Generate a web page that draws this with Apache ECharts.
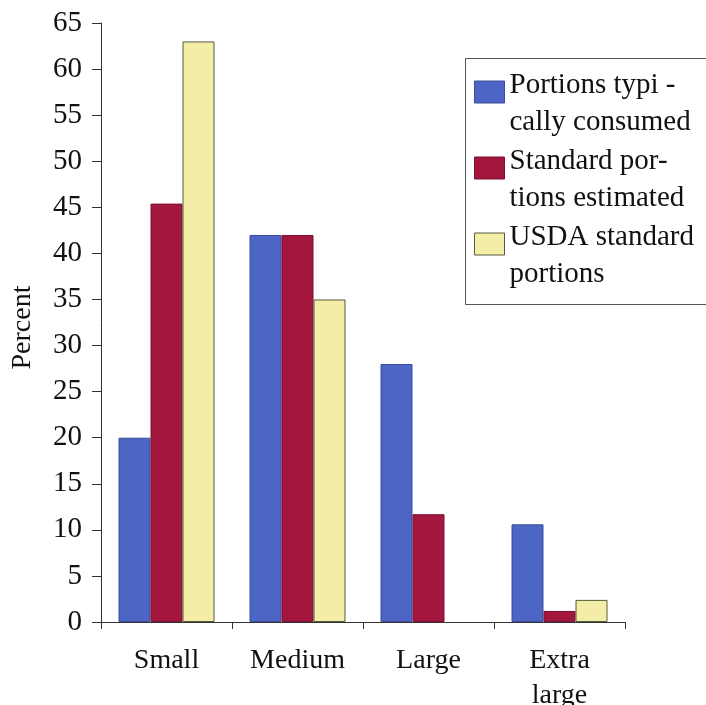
<!DOCTYPE html>
<html>
<head>
<meta charset="utf-8">
<style>
  html, body { margin: 0; padding: 0; background: #ffffff; }
  #chart { width: 706px; height: 705px; }
</style>
<script src="https://cdn.jsdelivr.net/npm/echarts@6/dist/echarts.min.js"></script>
</head>
<body>
<div id="chart"></div>
<script>
// Portion-size categories on the x axis
const categories = ['Small', 'Medium', 'Large', 'Extra\nlarge'];

// Percent of responses in each portion-size category
const typicallyConsumed = [20, 42, 28, 10.6];
const standardEstimated = [45.4, 42, 11.7, 1.2];
const usdaStandard = [63, 35, 0, 2.4];

// Series names, broken over two lines the way the legend prints them
const seriesNames = [
  'Portions typi -\ncally consumed',
  'Standard por-\ntions estimated',
  'USDA standard\nportions'
];

// Y axis range and step
const yMin = 0;
const yMax = 65;
const yStep = 5;

const serif = '"Liberation Serif", "Times New Roman", serif';
const colors = ['#4d66c5', '#a3173e', '#f3eda8'];
const edges = ['#3a4c9a', '#7e1030', '#555a3a'];

const chart = echarts.init(document.getElementById('chart'), null, { renderer: 'canvas' });

function barSeries(name, values, i) {
  return {
    name: name,
    type: 'bar',
    // a zero-height bar gets no outline, so nothing is drawn for it
    data: values.map(v => v === 0 ? { value: v, itemStyle: { borderWidth: 0 } } : v),
    barWidth: 32,
    barGap: '0%',
    itemStyle: { color: colors[i], borderColor: edges[i], borderWidth: 1 },
    emphasis: { disabled: true }
  };
}

// Legend text: a short blank line on top pushes the two text lines down,
// so each swatch sits beside the first line of its label.
function legendLabel(name) {
  return '{s| }\n' + name.split('\n').map(l => '{t|' + l + '}').join('\n');
}

chart.setOption({
  animation: false,
  backgroundColor: '#ffffff',
  grid: { left: 101, right: 81, top: 23, bottom: 83, containLabel: false, outerBoundsMode: 'none' },
  legend: {
    orient: 'vertical',
    left: 474,
    top: 43,
    padding: 0,
    itemWidth: 30,
    itemHeight: 22,
    itemGap: -18,
    icon: 'rect',
    selectedMode: false,
    data: seriesNames,
    formatter: legendLabel,
    itemStyle: { borderWidth: 1 },
    textStyle: {
      fontFamily: serif,
      fontSize: 29,
      color: '#111',
      rich: {
        s: { fontSize: 4, lineHeight: 24, height: 24 },
        t: { fontFamily: serif, fontSize: 29, color: '#111', lineHeight: 37 }
      }
    }
  },
  graphic: [{
    type: 'rect',
    shape: { x: 465.5, y: 58.5, width: 250, height: 246 },
    style: { fill: 'none', stroke: '#555', lineWidth: 1 },
    silent: true,
    z: -1
  }],
  xAxis: {
    type: 'category',
    data: categories,
    boundaryGap: true,
    axisLine: { show: true, lineStyle: { color: '#333', width: 1 } },
    axisTick: { show: true, inside: false, length: 7, lineStyle: { color: '#333' } },
    axisLabel: {
      margin: 21,
      fontFamily: serif,
      fontSize: 28,
      lineHeight: 35,
      color: '#111',
      interval: 0
    },
    splitLine: { show: false }
  },
  yAxis: {
    type: 'value',
    min: yMin,
    max: yMax,
    interval: yStep,
    name: 'Percent',
    nameLocation: 'middle',
    nameGap: 64,
    nameRotate: 90,
    nameTextStyle: { fontFamily: serif, fontSize: 28, color: '#111', padding: [0, 10, 0, 0] },
    axisLine: { show: true, lineStyle: { color: '#333', width: 1 } },
    axisTick: { show: true, inside: false, length: 9, lineStyle: { color: '#333' } },
    axisLabel: { margin: 19, fontFamily: serif, fontSize: 29, color: '#111' },
    splitLine: { show: false }
  },
  series: [
    barSeries(seriesNames[0], typicallyConsumed, 0),
    barSeries(seriesNames[1], standardEstimated, 1),
    barSeries(seriesNames[2], usdaStandard, 2)
  ]
});
</script>
</body>
</html>
